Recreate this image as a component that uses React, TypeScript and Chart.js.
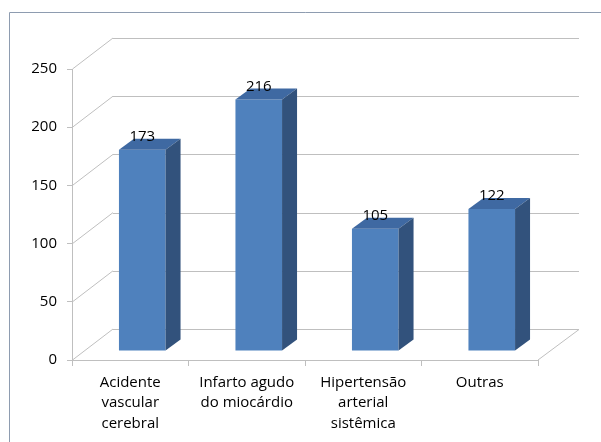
import { useEffect, useRef } from "react";
import { Chart, registerables } from "chart.js";

Chart.register(...registerables);

const categories: string[][] = [
  ["Acidente", "vascular", "cerebral"],
  ["Infarto agudo", "do miocárdio"],
  ["Hipertensão", "arterial", "sistêmica"],
  ["Outras"],
];
const values: number[] = [173, 216, 105, 122];
const yMin = 0;
const yMax = 250;
const yStep = 50;

// depth of the walls/floor and placement of the boxes inside that depth
const WALL_DX = 41;
const WALL_DY = 31;
const BAR_SHIFT_X = 12;
const BAR_SHIFT_Y = 9;
const BAR_DX = 15;
const BAR_DY = 11;

const GRID = "#BFBFBF";
const FRONT = "#4F81BD";
const TOP = "#3F69A2";
const SIDE = "#32527C";
const FONT = "'Open Sans', 'DejaVu Sans', sans-serif";

const px = (v: number) => Math.round(v) + 0.5;

const scene3d = {
  id: "scene3d",
  beforeDraw(chart: any) {
    const { ctx, chartArea, scales } = chart;
    const { left, right, bottom } = chartArea;
    ctx.save();
    // outer frame
    ctx.strokeStyle = "#8E9CB0";
    ctx.lineWidth = 1;
    ctx.beginPath();
    ctx.moveTo(9.5, chart.height);
    ctx.lineTo(9.5, 12.5);
    ctx.lineTo(chart.width, 12.5);
    ctx.stroke();

    // back wall grid lines and left wall diagonals
    ctx.strokeStyle = GRID;
    const y = scales.y;
    for (let v = yMin; v <= yMax; v += yStep) {
      const yp = y.getPixelForValue(v);
      ctx.beginPath();
      ctx.moveTo(left + WALL_DX, px(yp - WALL_DY));
      ctx.lineTo(right + WALL_DX, px(yp - WALL_DY));
      ctx.stroke();
      ctx.beginPath();
      ctx.moveTo(left + 0.5, yp);
      ctx.lineTo(left + WALL_DX, yp - WALL_DY);
      ctx.stroke();
    }
    // right edge of the floor
    ctx.beginPath();
    ctx.moveTo(right, bottom);
    ctx.lineTo(right + WALL_DX, bottom - WALL_DY + 0.5);
    ctx.stroke();
    ctx.restore();
  },
  beforeDatasetsDraw(chart: any) {
    chart.ctx.save();
    chart.ctx.translate(BAR_SHIFT_X, -BAR_SHIFT_Y);
  },
  afterDatasetsDraw(chart: any) {
    const { ctx } = chart;
    ctx.restore();
    const meta = chart.getDatasetMeta(0);
    ctx.save();
    meta.data.forEach((bar: any, i: number) => {
      const props = bar.getProps(["x", "y", "base", "width"], true);
      const l = props.x - props.width / 2 + BAR_SHIFT_X;
      const r = props.x + props.width / 2 + BAR_SHIFT_X;
      const t = props.y - BAR_SHIFT_Y;
      const b = props.base - BAR_SHIFT_Y;
      // top face
      ctx.fillStyle = TOP;
      ctx.beginPath();
      ctx.moveTo(l, t);
      ctx.lineTo(l + BAR_DX, t - BAR_DY);
      ctx.lineTo(r + BAR_DX, t - BAR_DY);
      ctx.lineTo(r, t);
      ctx.closePath();
      ctx.fill();
      // side face
      ctx.fillStyle = SIDE;
      ctx.beginPath();
      ctx.moveTo(r, t);
      ctx.lineTo(r + BAR_DX, t - BAR_DY);
      ctx.lineTo(r + BAR_DX, b - BAR_DY);
      ctx.lineTo(r, b);
      ctx.closePath();
      ctx.fill();
      // value label
      ctx.fillStyle = "#000";
      ctx.font = `15px ${FONT}`;
      ctx.textAlign = "center";
      ctx.textBaseline = "middle";
      ctx.fillText(String(values[i]), (l + r) / 2, t - 13);
    });
    ctx.restore();
  },
};

export default function App() {
  const canvasRef = useRef<HTMLCanvasElement | null>(null);

  useEffect(() => {
    if (!canvasRef.current) return;
    const chart = new Chart(canvasRef.current, {
      type: "bar",
      data: {
        labels: categories,
        datasets: [
          {
            data: values,
            backgroundColor: FRONT,
            borderWidth: 0,
            barPercentage: 0.4,
            categoryPercentage: 1,
            clip: false as any,
          },
        ],
      },
      options: {
        responsive: false,
        animation: false,
        events: [],
        layout: { padding: { top: 69, right: 63, left: 0, bottom: 0 } },
        plugins: {
          legend: { display: false },
          tooltip: { enabled: false },
        },
        scales: {
          x: {
            offset: true,
            grid: {
              offset: true,
              drawOnChartArea: false,
              drawTicks: true,
              tickLength: 6,
              color: GRID,
            },
            border: { display: true, color: GRID },
            ticks: {
              color: "#000",
              font: { family: FONT, size: 15, lineHeight: 1.37 },
              padding: 6,
              maxRotation: 0,
              autoSkip: false,
            },
            afterFit: (s: any) => {
              s.height = 82;
            },
          },
          y: {
            min: yMin,
            max: yMax,
            grid: {
              drawOnChartArea: false,
              drawTicks: true,
              tickLength: 5,
              color: GRID,
            },
            border: { display: true, color: GRID },
            ticks: {
              stepSize: yStep,
              color: "#000",
              font: { family: FONT, size: 15 },
              padding: 10,
            },
            afterFit: (s: any) => {
              s.width = 72;
            },
          },
        },
      },
      plugins: [scene3d],
    });
    return () => chart.destroy();
  }, []);

  return (
    <div style={{ position: "absolute", left: 0, top: 0, width: 601, height: 442, background: "#fff" }}>
      <canvas ref={canvasRef} width={601} height={442} style={{ display: "block" }} />
    </div>
  );
}
